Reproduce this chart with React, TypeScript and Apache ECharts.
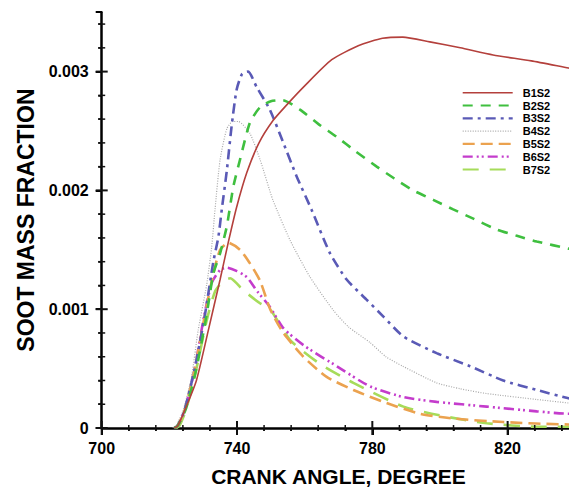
import React, { useEffect, useRef } from "react";
import * as echarts from "echarts";

const seriesNames = ["B1S2", "B2S2", "B3S2", "B4S2", "B5S2", "B6S2", "B7S2"];

const b1s2: [number, number][] = [
  [721.5, 0], [722.5, 0.00002], [725, 0.00018], [728, 0.0004], [731.5, 0.00082], [735, 0.00125],
  [737.4, 0.00156], [739.9, 0.00186], [742.9, 0.00215], [746.5, 0.0024], [750.7, 0.00259],
  [754.7, 0.00272], [760, 0.00288], [768, 0.0031], [776, 0.00322], [783, 0.00328], [789, 0.00329],
  [797, 0.00325], [806, 0.0032], [815.7, 0.00314], [827, 0.00309], [838, 0.00303], [840, 0.00302],
];
const b2s2: [number, number][] = [
  [721.5, 0], [722.5, 0.00002], [725, 0.00017], [728, 0.0005], [731, 0.00095], [733, 0.0013],
  [735, 0.00147], [737, 0.0017], [738.9, 0.00203], [740.9, 0.00226], [743.8, 0.00257], [746.8, 0.0027],
  [750, 0.00275], [753.5, 0.00276], [758.6, 0.00268], [764, 0.00256], [769.5, 0.00245], [775, 0.00233],
  [781.3, 0.0022], [786.5, 0.0021], [792.1, 0.002], [798, 0.00192], [803.9, 0.00184], [810, 0.00176],
  [816.8, 0.00167], [822.5, 0.00162], [828.6, 0.00157], [838, 0.00151], [840, 0.0015],
];
const b3s2: [number, number][] = [
  [721.5, 0], [722.5, 0.00002], [724.5, 0.00015], [727.5, 0.0005], [730.5, 0.00095], [733, 0.0014],
  [734.5, 0.00161], [735.5, 0.00184], [737, 0.00217], [738.4, 0.00254], [739.9, 0.00285], [741.5, 0.00298],
  [743.3, 0.003], [745.8, 0.00287], [749.7, 0.00268], [753.7, 0.0024], [757.6, 0.00212], [762, 0.00184],
  [767.5, 0.00147], [772.4, 0.00125], [778.3, 0.00108], [783.2, 0.00094], [789.2, 0.00077], [799, 0.00063],
  [808.9, 0.00052], [818.7, 0.0004], [828.6, 0.00032], [838, 0.00025], [840, 0.00024],
];
const b4s2: [number, number][] = [
  [721, 0], [722, 0.00002], [724, 0.00014], [726.5, 0.00042], [728.5, 0.00082], [731, 0.0012],
  [732.5, 0.00152], [733.5, 0.00184], [735, 0.00226], [737, 0.00252], [738.7, 0.00258], [740.4, 0.00258],
  [743.8, 0.00248], [746.8, 0.00226], [750.6, 0.00192], [755.7, 0.00158], [761.6, 0.00127], [768.5, 0.00099],
  [773, 0.00085], [779.3, 0.00072], [784, 0.0006], [789, 0.00052], [799, 0.00038], [806, 0.00033],
  [813.8, 0.00029], [828.6, 0.00024], [838, 0.00021], [840, 0.0002],
];
const b5s2: [number, number][] = [
  [721.5, 0], [722.5, 0.00002], [724.5, 0.00015], [727.5, 0.0005], [730.5, 0.00095], [733, 0.0013],
  [735, 0.0015], [737.4, 0.00156], [740.9, 0.0015], [743.5, 0.0014], [746.8, 0.00124], [749.8, 0.001],
  [753.7, 0.0008], [759.6, 0.0006], [766.5, 0.00043], [774.4, 0.00032], [784.2, 0.00021], [794.1, 0.00012],
  [803.9, 0.00008], [818.7, 0.00005], [838, 0.00003], [840, 0.00003],
];
const b6s2: [number, number][] = [
  [721.5, 0], [722.5, 0.00002], [724.5, 0.00015], [727.5, 0.0005], [730, 0.0009], [732.5, 0.00122],
  [735, 0.00133], [737, 0.00135], [740, 0.00132], [742.9, 0.00127], [746, 0.00115], [749.7, 0.00102],
  [753.7, 0.00084], [760, 0.00069], [769.5, 0.00052], [779.3, 0.00035], [789.2, 0.00026], [799, 0.00022],
  [813.8, 0.00018], [828.6, 0.00014], [838, 0.00012], [840, 0.00012],
];
const b7s2: [number, number][] = [
  [722, 0], [723, 0.00002], [725, 0.00016], [728, 0.0005], [731, 0.0009], [733.5, 0.00115],
  [736, 0.00124], [738, 0.00126], [741.8, 0.00116], [746.8, 0.00105], [749.8, 0.001], [755.7, 0.00074],
  [764.5, 0.00054], [774.4, 0.00038], [789.2, 0.00018], [801, 0.0001], [813.8, 0.00004], [828.6, 0.00001],
  [840, 0.00001],
];

const xMajorTicks = [700, 740, 780, 820];
const yMajorTicks = [0, 0.001, 0.002, 0.003];

const xMinorTicks: number[] = [];
for (let v = 708; v <= 836; v += 8) if ((v - 700) % 40 !== 0) xMinorTicks.push(v);
const yMinorTicks: number[] = [];
for (let k = 1; k <= 17; k++) if (k % 5 !== 0) yMinorTicks.push(Math.round(k * 2) / 10000);

const colors = ["#b4403c", "#3fbf3f", "#5a5ab6", "#a8a8a8", "#eba24f", "#c43ccc", "#a6dc5a"];
const widths = [1.6, 2.6, 2.6, 1.2, 2.6, 2.6, 2.6];
const dashes: any[] = [
  "solid",
  [10, 8],
  [10, 5, 3, 5],
  [1, 1.5],
  [12, 6],
  [10, 4, 2, 3, 2, 4],
  [16, 11],
];
const allData = [b1s2, b2s2, b3s2, b4s2, b5s2, b6s2, b7s2];

const FONT = "Liberation Sans";
const X_MIN = 700;
const X_MAX = 840;
const Y_MIN = 0;
const Y_MAX = 0.0035;
const GRID = { left: 101.7, right: -6.3, top: 12.2, bottom: 59 };

export default function App() {
  const ref = useRef<HTMLDivElement>(null);
  useEffect(() => {
    if (!ref.current) return;
    const chart = echarts.init(ref.current, undefined, { renderer: "svg" });
    const W = chart.getWidth();
    const H = chart.getHeight();
    const plotW = W - GRID.left - GRID.right;
    const plotH = H - GRID.top - GRID.bottom;
    const sx = (v: number) => GRID.left + ((v - X_MIN) / (X_MAX - X_MIN)) * plotW;
    const sy = (v: number) => GRID.top + plotH - ((v - Y_MIN) / (Y_MAX - Y_MIN)) * plotH;

    const series: any[] = seriesNames.map((name, i) => ({
      name,
      type: "line",
      data: allData[i],
      symbol: "none",
      showSymbol: false,
      smooth: 0.2,
      z: 10 - i,
      itemStyle: { color: colors[i] },
      lineStyle: { color: colors[i], width: widths[i], type: dashes[i] },
    }));

    const elems: any[] = [];
    const ax0 = sx(X_MIN);
    const ay0 = sy(Y_MIN);
    let tid = 0;
    const tick = (cx: number, cy: number, w: number, h: number) =>
      elems.push({
        type: "rect",
        id: "tick" + tid++,
        silent: true,
        z: 100,
        shape: { x: cx - w / 2, y: cy - h / 2, width: w, height: h },
        style: { fill: "#111111" },
      });
    xMajorTicks.forEach((v) => tick(sx(v), ay0, 2, 14));
    xMinorTicks.forEach((v) => tick(sx(v), ay0, 1.5, 6));
    yMajorTicks.forEach((v) => tick(ax0, sy(v), 12, 2));
    yMinorTicks.forEach((v) => tick(ax0, sy(v), 7, 1.5));

    // legend drawn as graphic
    const legX = 462.7;
    const legY = 92.7;
    const rowH = 12.8;
    seriesNames.forEach((name, i) => {
      const y = legY + i * rowH;
      elems.push({
        type: "line",
        silent: true,
        z: 100,
        shape: { x1: legX, y1: y, x2: legX + 50, y2: y },
        style: {
          stroke: colors[i],
          lineWidth: Math.min(widths[i], 2.2),
          lineDash: Array.isArray(dashes[i]) ? dashes[i] : null,
        },
      });
      elems.push({
        type: "text",
        silent: true,
        z: 100,
        x: legX + 60,
        y,
        style: {
          text: name,
          fill: "#000",
          font: `bold 11px "${FONT}"`,
          verticalAlign: "middle",
        },
      });
    });

    chart.setOption({
      animation: false,
      backgroundColor: "#fff",
      grid: { ...GRID, outerBoundsMode: "none", containLabel: false },
      xAxis: {
        type: "value",
        min: X_MIN,
        max: X_MAX,
        interval: 40,
        splitLine: { show: false },
        axisLine: { show: true, onZero: false, lineStyle: { color: "#000", width: 2.5 } },
        axisTick: { show: true, inside: false, length: 7, lineStyle: { color: "#000", width: 2 } },
        minorTick: { show: true, splitNumber: 5, length: 3, lineStyle: { color: "#000", width: 1.5 } },
        axisLabel: {
          customValues: xMajorTicks,
          margin: 12,
          color: "#000",
          fontSize: 16,
          fontWeight: "bold",
          fontFamily: FONT,
        },
        name: "CRANK ANGLE, DEGREE",
        nameLocation: "middle",
        nameGap: 38,
        nameTextStyle: { color: "#000", fontSize: 21, fontWeight: "bold", fontFamily: FONT },
      },
      yAxis: {
        type: "value",
        min: Y_MIN,
        max: Y_MAX,
        interval: 0.001,
        splitLine: { show: false },
        axisLine: { show: true, onZero: false, lineStyle: { color: "#000", width: 2.5 } },
        axisTick: { show: true, inside: false, length: 6, lineStyle: { color: "#000", width: 2 } },
        minorTick: { show: true, splitNumber: 5, length: 3.5, lineStyle: { color: "#000", width: 1.5 } },
        axisLabel: {
          customValues: yMajorTicks,
          margin: 13,
          color: "#000",
          fontSize: 16,
          fontWeight: "bold",
          fontFamily: FONT,
          formatter: (v: number) => (v === 0 ? "0" : v.toFixed(3)),
        },
        name: "SOOT MASS FRACTION",
        nameLocation: "middle",
        nameGap: 64,
        nameTextStyle: { color: "#000", fontSize: 23, fontWeight: "bold", fontFamily: FONT },
      },
      graphic: { elements: elems },
      series,
    } as any);

    return () => chart.dispose();
  }, []);
  return (
    <div
      ref={ref}
      style={{ position: "fixed", left: 0, top: 0, width: 569, height: 487, background: "#fff" }}
    />
  );
}
